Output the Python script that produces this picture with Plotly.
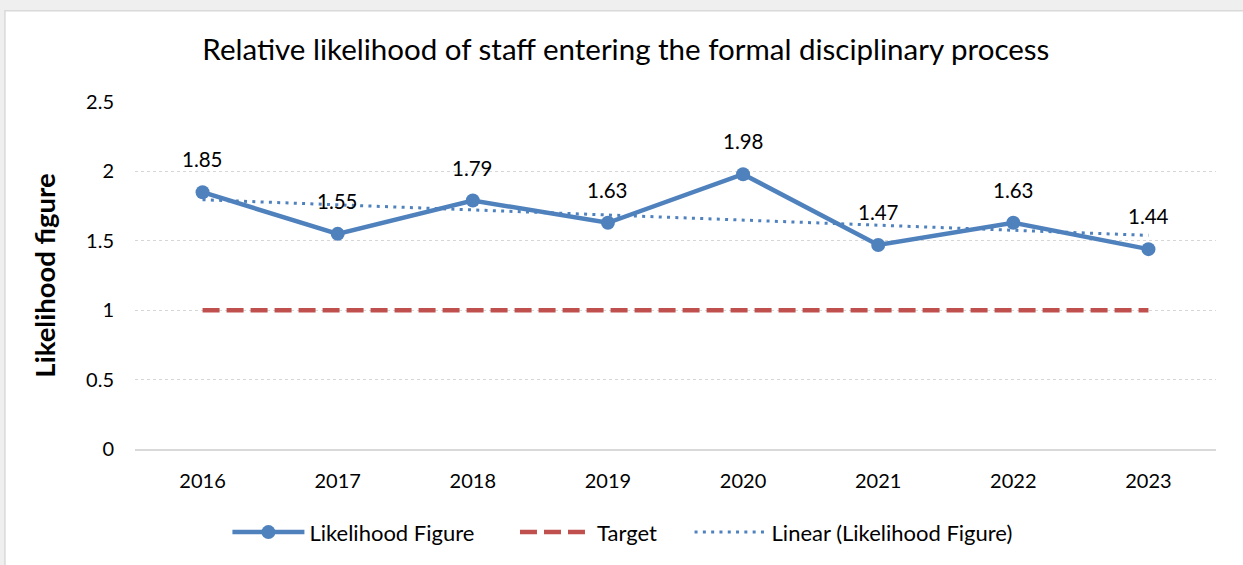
import numpy as np
import plotly.graph_objects as go

years = ["2016", "2017", "2018", "2019", "2020", "2021", "2022", "2023"]
likelihood = [1.85, 1.55, 1.79, 1.63, 1.98, 1.47, 1.63, 1.44]
target = [1, 1, 1, 1, 1, 1, 1, 1]
y_ticks = [0, 0.5, 1, 1.5, 2, 2.5]
y_tick_text = ["0", "0.5", "1", "1.5", "2", "2.5"]

BLUE = "#4F81BD"
RED = "#C0504D"
FONT = "Lato"

# category positions, excel style linear trendline over the series
idx = list(range(len(years)))
slope, icpt = np.polyfit(idx, likelihood, 1)
trend = (slope * np.array(idx) + icpt).tolist()

fig = go.Figure()
fig.add_trace(go.Scatter(x=idx, y=likelihood, mode="lines+markers", name="Likelihood Figure",
                         line=dict(color=BLUE, width=4.5), marker=dict(size=14, color=BLUE),
                         legend="legend"))
fig.add_trace(go.Scatter(x=idx, y=target, mode="lines", name="Target",
                         line=dict(color=RED, width=4.5, dash="17px,7px"), legend="legend2"))
fig.add_trace(go.Scatter(x=idx, y=trend, mode="lines", name="Linear (Likelihood Figure)",
                         line=dict(color=BLUE, width=3, dash="3px,5.3px"), legend="legend3"))

for i, v in zip(idx, likelihood):
    fig.add_annotation(x=i, y=v, text=f"{v:.2f}", showarrow=False, yshift=33,
                       font=dict(size=20.5, color="#000000", family=FONT))

# grey surround and chart frame
fig.add_shape(type="rect", xref="paper", yref="paper", x0=-0.1203, x1=1.2, y0=-0.5, y1=1.263,
              fillcolor="white", line=dict(color="#d9d9d9", width=1.5), layer="below")

leg = dict(orientation="h", y=-0.24, yanchor="middle", xanchor="left",
           font=dict(size=22), itemwidth=72, bgcolor="rgba(0,0,0,0)")

fig.update_layout(
    width=1243, height=565,
    margin=dict(l=135, r=27, t=101.5, b=115.5),
    paper_bgcolor="#efefef", plot_bgcolor="white",
    font=dict(family=FONT, size=20, color="#000000"),
    title=dict(text="Relative likelihood of staff entering the formal disciplinary process",
               x=0.5035, xanchor="center", y=0.912, yanchor="middle",
               font=dict(size=29.5, family=FONT)),
    legend=dict(leg, x=0.0855),
    legend2=dict(leg, x=0.3515),
    legend3=dict(leg, x=0.513),
    showlegend=True,
)
fig.update_xaxes(range=[-0.5, len(years) - 0.5], tickvals=idx, ticktext=years,
                 showgrid=False, showline=True, linecolor="#d9d9d9", linewidth=1.5, zeroline=False,
                 ticks="", ticklabelstandoff=13, tickfont=dict(size=20))
fig.update_yaxes(range=[0, 2.5], tickvals=y_ticks, ticktext=y_tick_text,
                 showgrid=True, gridcolor="#d6d6d6", griddash="dot", gridwidth=1,
                 zeroline=False, showline=False, ticks="", ticklabelstandoff=20,
                 tickfont=dict(size=20),
                 title=dict(text="<b>Likelihood figure</b>", font=dict(size=27.5), standoff=22))

fig.write_html("out.html", config={"displayModeBar": False},
               post_script="document.body.style.margin='0';")
